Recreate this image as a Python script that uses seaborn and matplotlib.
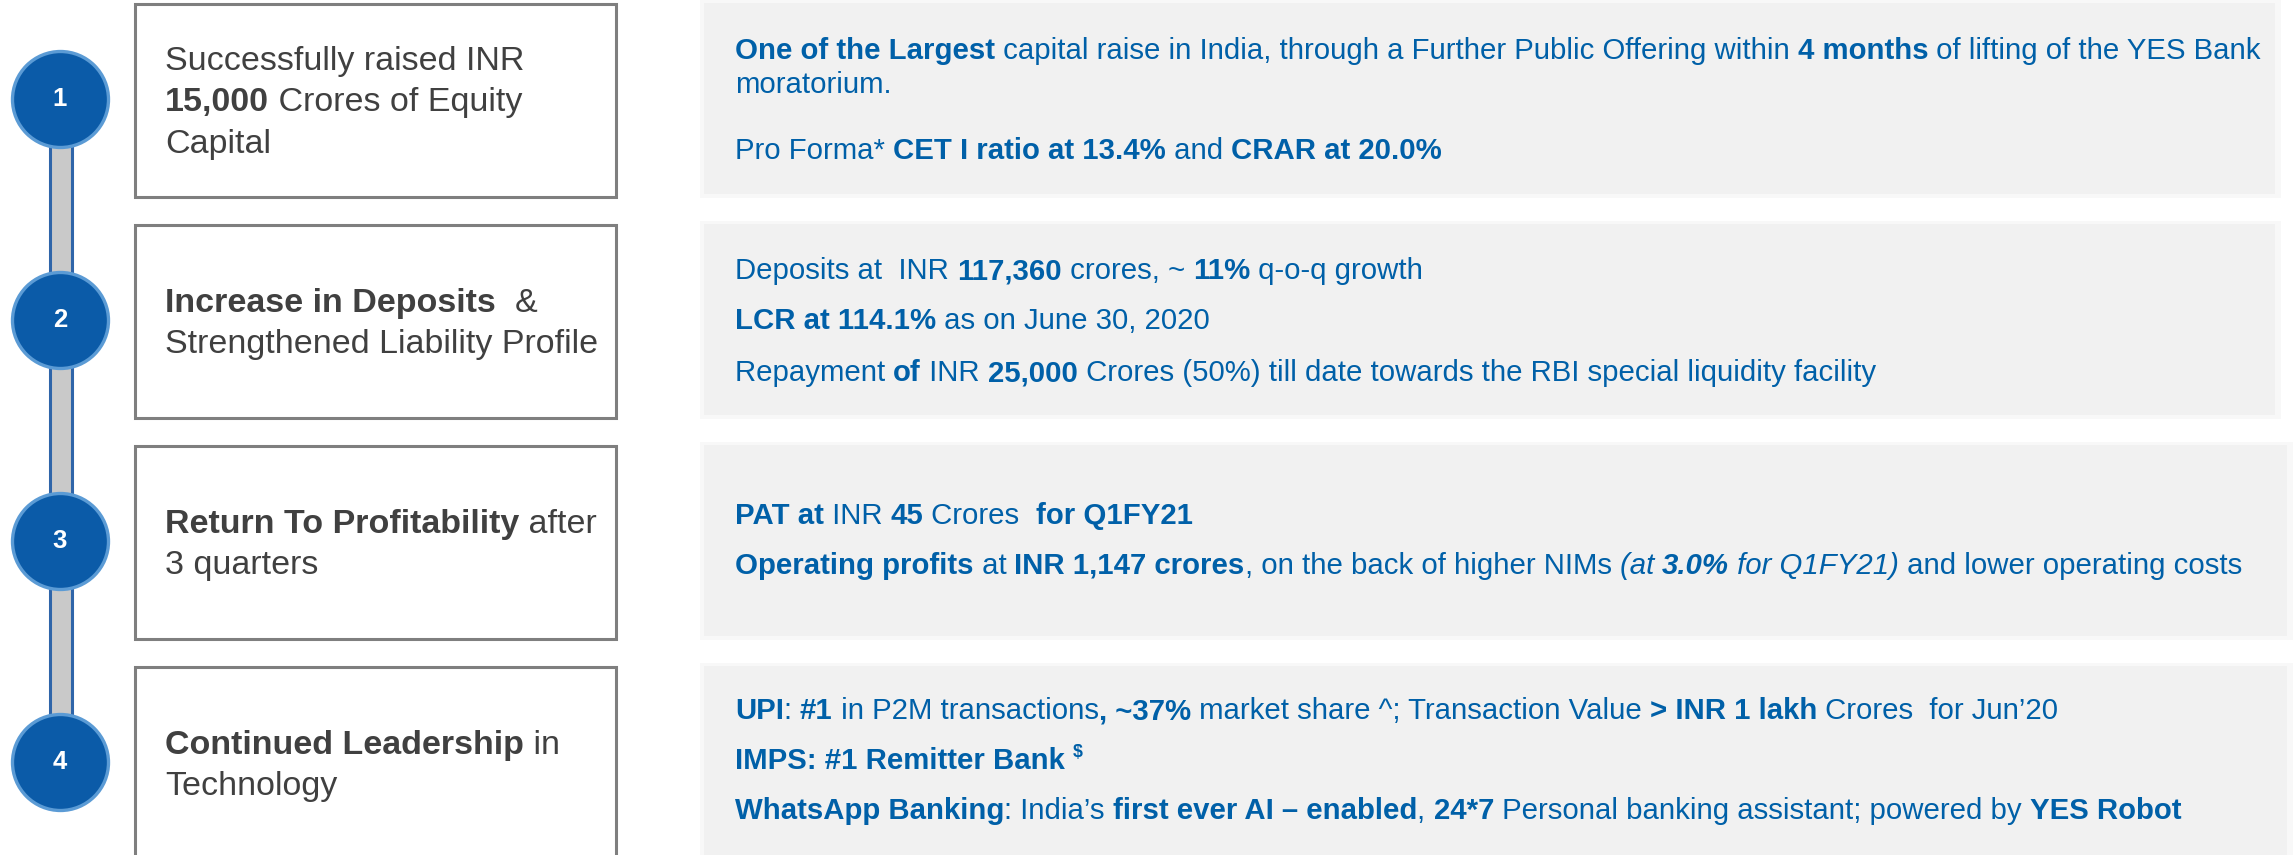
import matplotlib
matplotlib.use("Agg")
import matplotlib.pyplot as plt
from matplotlib.patches import Rectangle
from matplotlib.font_manager import FontProperties
import seaborn as sns

# ---------------- data ----------------
steps = [1, 2, 3, 4]
step_labels = ["1", "2", "3", "4"]

box_text = [
    [[("Successfully raised INR", "")],
     [("15,000", "b"), (" Crores of Equity", "")],
     [("Capital", "")]],
    [[("Increase in Deposits", "b"), ("  &", "")],
     [("Strengthened Liability Profile", "")]],
    [[("Return To Profitability", "b"), (" after", "")],
     [("3 quarters", "")]],
    [[("Continued Leadership", "b"), (" in", "")],
     [("Technology", "")]],
]

panel_text = [
    [[("One of the Largest", "b"), (" capital raise in India, through a Further Public Offering within ", ""),
      ("4 months", "b"), (" of lifting of the YES Bank", "")],
     [("moratorium.", "")],
     [("Pro Forma* ", ""), ("CET I ratio at 13.4%", "b"), (" and ", ""), ("CRAR at 20.0%", "b")]],
    [[("Deposits at  INR ", ""), ("117,360", "b"), (" crores, ~ ", ""), ("11%", "b"), (" q-o-q growth", "")],
     [("LCR at 114.1%", "b"), (" as on June 30, 2020", "")],
     [("Repayment ", ""), ("of", "b"), (" INR ", ""), ("25,000", "b"),
      (" Crores (50%) till date towards the RBI special liquidity facility", "")]],
    [[("PAT at", "b"), (" INR ", ""), ("45", "b"), (" Crores  ", ""), ("for Q1FY21", "b")],
     [("Operating profits", "b"), (" at ", ""), ("INR 1,147 crores", "b"), (", on the back of higher NIMs ", ""),
      ("(at ", "i"), ("3.0%", "bi"), (" for Q1FY21)", "i"), (" and lower operating costs", "")]],
    [[("UPI", "b"), (": ", ""), ("#1", "b"), (" in P2M transactions", ""), (", ~37%", "b"),
      (" market share ^; Transaction Value ", ""), ("> INR 1 lakh", "b"), (" Crores  for Jun\u201920", "")],
     [("IMPS: #1 Remitter Bank ", "b"), ("$", "bs")],
     [("WhatsApp Banking", "b"), (": India\u2019s ", ""), ("first ever AI \u2013 enabled", "b"), (", ", ""),
      ("24*7", "b"), (" Personal banking assistant; powered by ", ""), ("YES Robot", "b")]],
]

# ---------------- style ----------------
sns.set_theme(style="white")
FONT = "Liberation Sans"
plt.rcParams["font.family"] = [FONT, "DejaVu Sans"]

BLUE_DARK = "#0b5ba8"
BLUE_EDGE = "#5b9bd5"
BLUE_CONN = "#2f65a9"
GREY_CONN = "#c9c9c9"
BOX_EDGE = "#7f7f7f"
BOX_TXT = "#404040"
PANEL_BG = "#f1f1f1"
PANEL_TXT = "#0060a8"

W, H = 2293, 855
PX = 221.0  # pixels per step
fig = plt.figure(figsize=(W / 100, H / 100), dpi=100)
ax = fig.add_axes([0, 0, 1, 1])
ax.set_xlim(0, W)
top = steps[0] - 99 / PX
ax.set_ylim(top + H / PX, top)
ax.axis("off")
renderer = fig.canvas.get_renderer()


def py(p):
    return p / PX


# connector
ax.add_patch(Rectangle((50, steps[0]), 22, steps[-1] - steps[0], facecolor=GREY_CONN,
                       edgecolor=BLUE_CONN, linewidth=2.2, zorder=2))

# circles
d_pt = 96 * 72 / 100
sns.scatterplot(x=[60] * len(steps), y=steps, s=d_pt ** 2, color=BLUE_DARK, edgecolor=BLUE_EDGE,
                linewidth=2.4, ax=ax, zorder=3, legend=False)
for s, lab in zip(steps, step_labels):
    ax.text(60, s, lab, ha="center", va="center", color="white", fontsize=18.5, fontweight="bold", zorder=4)

panel_right = [2275, 2275, 2287, 2287]
panel_offsets = [[-40, -6, 60], [-41, 9, 61], [-17, 33], [-43, 7, 57]]


def run_width(txt, fp):
    w1, _, _ = renderer.get_text_width_height_descent("|" + txt + "|", fp, ismath=False)
    w0, _, _ = renderer.get_text_width_height_descent("||", fp, ismath=False)
    return w1 - w0


def draw_runs(x0, y, runs, size, color):
    x = x0
    for txt, st in runs:
        sz = size * (0.6 if "s" in st else 1.0)
        yy = y - (py(size * 0.55) if "s" in st else 0)
        fp = FontProperties(family=FONT, size=sz,
                            weight="bold" if "b" in st else "normal",
                            style="italic" if "i" in st else "normal")
        ax.text(x, yy, txt, fontproperties=fp, color=color, ha="left", va="baseline",
                parse_math=False, zorder=5)
        x += run_width(txt, fp)


for i, s in enumerate(steps):
    # left box
    ax.add_patch(Rectangle((135, s - py(96.5) + py(1.5)), 481, py(193), facecolor="white",
                           edgecolor=BOX_EDGE, linewidth=2.2, zorder=2))
    lines = box_text[i]
    n = len(lines)
    for j, runs in enumerate(lines):
        yb = s + py(12.5 + (j - (n - 1) / 2) * 41.5)
        draw_runs(165, yb, runs, 24.5, BOX_TXT)
    # right panel
    ax.add_patch(Rectangle((700, s - py(99)), panel_right[i] - 700 + 6, py(198),
                           facecolor="#f8f8f8", edgecolor="none", zorder=1))
    ax.add_patch(Rectangle((704, s - py(96)), panel_right[i] - 704, py(191),
                           facecolor=PANEL_BG, edgecolor="none", zorder=1))
    for runs, off in zip(panel_text[i], panel_offsets[i]):
        draw_runs(735, s + py(off), runs, 21.2, PANEL_TXT)

fig.savefig("out.png", dpi=100, facecolor="white")
